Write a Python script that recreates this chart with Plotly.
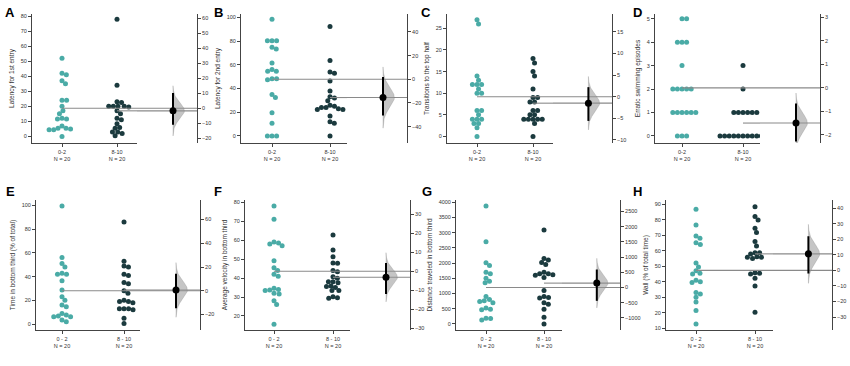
import numpy as np
import plotly.graph_objects as go

# ---- data (one pair of groups per panel) ----
letters = ["A", "B", "C", "D", "E", "F", "G", "H"]
titles = ["Latency for 1st entry", "Latency for 2nd entry", "Transitions to the top half",
          "Erratic swimming episodes", "Time in bottom third (% of total)",
          "Average velocity in bottom third", "Distance traveled in bottom third",
          "Wall (% of total time)"]
top_labels = ["0-2<br>N = 20", "8-10<br>N = 20"]
bottom_labels = ["0 - 2<br>N = 20", "8 - 10<br>N = 20"]

a_02 = [52, 42, 41, 37, 35, 24, 24, 20, 17, 15, 11.5, 11.5, 12, 7, 5.5, 4.4, 4.4, 5, 5.5, 0]
a_810 = [78, 34, 23, 22.5, 20, 19.5, 20, 20, 20, 17, 15, 12, 11, 8.5, 6, 5.5, 3, 3, 2, 0.5]
b_02 = [98.6, 80.4, 80.4, 80.4, 73.5, 75, 61.7, 54.7, 54.7, 56, 48.3, 47.5, 48.3, 35, 32.4,
        19.6, 10.6, 0, 0, 0]
b_810 = [92.5, 63.7, 54, 53, 46.4, 38, 32, 33, 29.6, 26, 25, 24, 24, 23, 22.3, 22.3, 16.8,
         12, 10.6, 0]
c_02 = [27, 26, 14, 13, 12, 12, 12, 11, 10, 10, 6, 6, 5, 4, 4, 4, 3, 3, 2, 0]
c_810 = [18, 17, 15, 14, 11, 9, 9, 8, 8, 6, 6, 5, 5, 4, 4, 4, 4, 4, 3, 0]
d_02 = [5, 5, 4, 4, 4, 3, 2, 2, 2, 2, 2, 1, 1, 1, 1, 1, 1, 0, 0, 0]
d_810 = [3, 2, 1, 1, 1, 1, 1, 1, 0, 0, 0, 0, 0, 0, 0, 0, 0, 0, 0, 0]
e_02 = [99.4, 56, 51, 48, 42, 42.7, 42, 36.5, 28.6, 23, 20, 16, 14.6, 9, 7.6, 6.2, 6.7, 6.2,
        3.4, 2]
e_810 = [86, 53, 49, 48, 42, 41, 35, 34, 28, 26, 20, 19, 18, 19, 13, 12, 13, 13, 5, 0.5]
f_02 = [78, 71, 59, 58.5, 58, 57, 49.2, 45.5, 44, 42, 41, 34, 33.7, 34.6, 33.4, 32, 31.6, 28,
        26, 15.6]
f_810 = [62.7, 54.8, 51.3, 48, 47.8, 44, 43.4, 40.7, 39.9, 38, 37.5, 38, 35.8, 35, 35.5, 33.4,
         33.4, 30.2, 29.3, 29.6]
g_02 = [3877, 2705, 2015, 1917, 1700, 1650, 1500, 1400, 1350, 900, 800, 760, 740, 700, 520,
        470, 480, 190, 130, 180]
g_810 = [3090, 2150, 2100, 2020, 1950, 1700, 1650, 1650, 1620, 1600, 1530, 1100, 900, 870, 850,
         700, 650, 480, 220, 0]
h_02 = [86.6, 76.5, 69.5, 68, 65, 64, 52, 49.5, 47, 45.5, 45, 41, 40, 39.5, 33, 32, 30, 27,
        21.5, 12.8]
h_810 = [88.3, 81.9, 79.7, 74.4, 71.6, 65.8, 63, 58.7, 57.8, 58.7, 56, 55, 55.7, 55.7, 45.8,
         45, 45.4, 42.2, 37.3, 20.3]

# 95% CI of the mean difference (8-10 minus 0-2)
ci_low = [-10.9, -30.7, -5.6, -2.29, -14.7, -12.0, -440, -2.0]
ci_high = [10.2, 2.0, 2.2, -0.67, 14.4, 4.4, 590, 22.0]

# left axis ranges and tick steps
y_ranges = [(-4.4, 81.5), (-6, 103), (-1.5, 28.3), (-0.3, 5.2), (-5, 104.5), (12.6, 81.2),
            (-200, 4075), (8.9, 92.6)]
left_dtick = [10, 20, 5, 1, 20, 10, 500, 10]
right_dtick = [10, 20, 5, 1, 20, 10, 500, 10]

groups = [(a_02, a_810), (b_02, b_810), (c_02, c_810), (d_02, d_810),
          (e_02, e_810), (f_02, f_810), (g_02, g_810), (h_02, h_810)]

# ---- layout geometry in pixels: left axis, swarm end, right axis, cat0, cat1 ----
W, H = 850, 366
geom = [(32, 137, 197, 62, 117), (241, 347, 407, 272, 330), (447, 553, 612, 477, 533),
        (655, 760, 820, 682, 743), (36, 140, 200, 62, 124), (245, 350, 410, 274, 333),
        (456, 562, 620, 486, 544), (666, 773, 832, 696, 755)]
rows = [(14, 143), (200, 330)]
letter_pos = [(10, 12), (218, 12), (426, 12), (637, 12), (10, 191), (218, 191), (427, 191),
              (637, 191)]

TEAL = "#4aaba6"
DARK = "#1b3a3e"
AXIS = "#444444"
MSIZE = 5
SPACING = 4.6


def swarm(vals, ppu, d):
    """deterministic beeswarm offsets in px"""
    vals = np.asarray(vals, float)
    order = np.argsort(-vals, kind="stable")
    placed = []
    xs = np.zeros(len(vals))
    for i in order:
        y = vals[i] * ppu
        cands = [0.0]
        for px, py in placed:
            dy = abs(py - y)
            if dy < d:
                dx = np.sqrt(d * d - dy * dy)
                cands += [px + dx, px - dx]
        cands.sort(key=lambda c: (round(abs(c), 6), -c))
        for c in cands:
            if all((c - px) ** 2 + (y - py) ** 2 >= d * d - 1e-6 for px, py in placed):
                xs[i] = c
                break
        placed.append((xs[i], y))
    return xs


fig = go.Figure()
layout = {}
annotations = []
tickfont = dict(family="Liberation Sans, Arial", size=5.5, color="#333333")

for p in range(8):
    L, E, R, c0, c1 = geom[p]
    top, bot = rows[p // 4]
    g1, g2 = groups[p]
    lo, hi = y_ranges[p]
    n1 = 2 * p + 1
    n2 = 2 * p + 2
    xs1, ys1 = f"x{n1}", f"y{n1}"
    xs2, ys2 = f"x{n2}", f"y{n2}"

    cat_px = c1 - c0
    xr = ((L - c0) / cat_px, (E - c0) / cat_px)
    ppu = (bot - top) / (hi - lo)
    ydom = [1 - bot / H, 1 - top / H]

    m1 = float(np.mean(g1))
    m2 = float(np.mean(g2))
    diff = m2 - m1

    for k, (vals, col) in enumerate([(g1, TEAL), (g2, DARK)]):
        off = swarm(vals, ppu, SPACING)
        fig.add_trace(go.Scatter(x=k + off / cat_px, y=vals, mode="markers", xaxis=xs1,
                                 yaxis=ys1, marker=dict(size=MSIZE, color=col),
                                 showlegend=False, hoverinfo="y"))

    # mean reference lines, continued across into the effect-size area
    for k, m, dv in [(0, m1, 0.0), (1, m2, diff)]:
        fig.add_trace(go.Scatter(x=[k, xr[1]], y=[m, m], mode="lines", xaxis=xs1, yaxis=ys1,
                                 line=dict(color="#8a8a8a", width=1.1), showlegend=False,
                                 hoverinfo="skip"))
        fig.add_trace(go.Scatter(x=[0, 1], y=[dv, dv], mode="lines", xaxis=xs2, yaxis=ys2,
                                 line=dict(color="#8a8a8a", width=1.1), showlegend=False,
                                 hoverinfo="skip"))

    # half violin of the difference distribution
    sig = (ci_high[p] - ci_low[p]) / 3.92
    t = np.linspace(-3.1 * sig, 3.1 * sig, 80)
    wdt = 0.19 * np.exp(-0.5 * (t / sig) ** 2)
    x0 = 0.6
    fig.add_trace(go.Scatter(x=np.concatenate([x0 + wdt, [x0, x0]]),
                             y=np.concatenate([diff + t, [diff + t[-1], diff + t[0]]]),
                             mode="lines", fill="toself", fillcolor="rgba(150,150,150,0.55)",
                             line=dict(width=0.5, color="rgba(120,120,120,0.5)"),
                             xaxis=xs2, yaxis=ys2, showlegend=False, hoverinfo="skip"))
    fig.add_trace(go.Scatter(x=[x0, x0], y=[ci_low[p], ci_high[p]], mode="lines",
                             line=dict(color="black", width=2), xaxis=xs2, yaxis=ys2,
                             showlegend=False, hoverinfo="skip"))
    fig.add_trace(go.Scatter(x=[x0], y=[diff], mode="markers",
                             marker=dict(color="black", size=7), xaxis=xs2, yaxis=ys2,
                             showlegend=False, hoverinfo="y"))

    labels = top_labels if p < 4 else bottom_labels
    layout[f"xaxis{n1}"] = dict(domain=[L / W, E / W], range=list(xr), anchor=ys1,
                                tickvals=[0, 1], ticktext=labels, ticks="outside", ticklen=3,
                                tickcolor=AXIS, showline=True, linecolor=AXIS, linewidth=1,
                                showgrid=False, zeroline=False, tickfont=tickfont,
                                automargin=False, fixedrange=True)
    layout[f"yaxis{n1}"] = dict(domain=ydom, range=[lo, hi], anchor=xs1, dtick=left_dtick[p],
                                tick0=0, ticks="outside", ticklen=3, tickcolor=AXIS,
                                showline=True, linecolor=AXIS, linewidth=1, showgrid=False,
                                zeroline=False, tickfont=tickfont, automargin=False,
                                title=dict(text=titles[p], standoff=5,
                                           font=dict(family="Liberation Sans, Arial",
                                                     size=6.5, color="#333333")))
    layout[f"xaxis{n2}"] = dict(domain=[E / W, R / W], range=[0, 1], anchor=ys2,
                                visible=False, fixedrange=True)
    layout[f"yaxis{n2}"] = dict(domain=ydom, range=[lo - m1, hi - m1], anchor=xs2,
                                side="right", dtick=right_dtick[p], tick0=0, ticks="outside",
                                ticklen=3, tickcolor=AXIS, showline=True, linecolor=AXIS,
                                linewidth=1, showgrid=False, zeroline=False,
                                tickfont=tickfont, automargin=False)

    lx, ly = letter_pos[p]
    annotations.append(dict(text=f"<b>{letters[p]}</b>", x=lx / W, y=1 - ly / H,
                            xref="paper", yref="paper", xanchor="center", yanchor="middle",
                            showarrow=False,
                            font=dict(family="Liberation Sans, Arial", size=13, color="black")))

fig.update_layout(width=W, height=H, margin=dict(l=0, r=0, t=0, b=0),
                  paper_bgcolor="white", plot_bgcolor="white", annotations=annotations,
                  showlegend=False, **layout)

# page body has an 8px default margin; drop it so the figure fills the window
fig.write_html("out.html", config={"displayModeBar": False},
               post_script="document.body.style.margin='0';")
